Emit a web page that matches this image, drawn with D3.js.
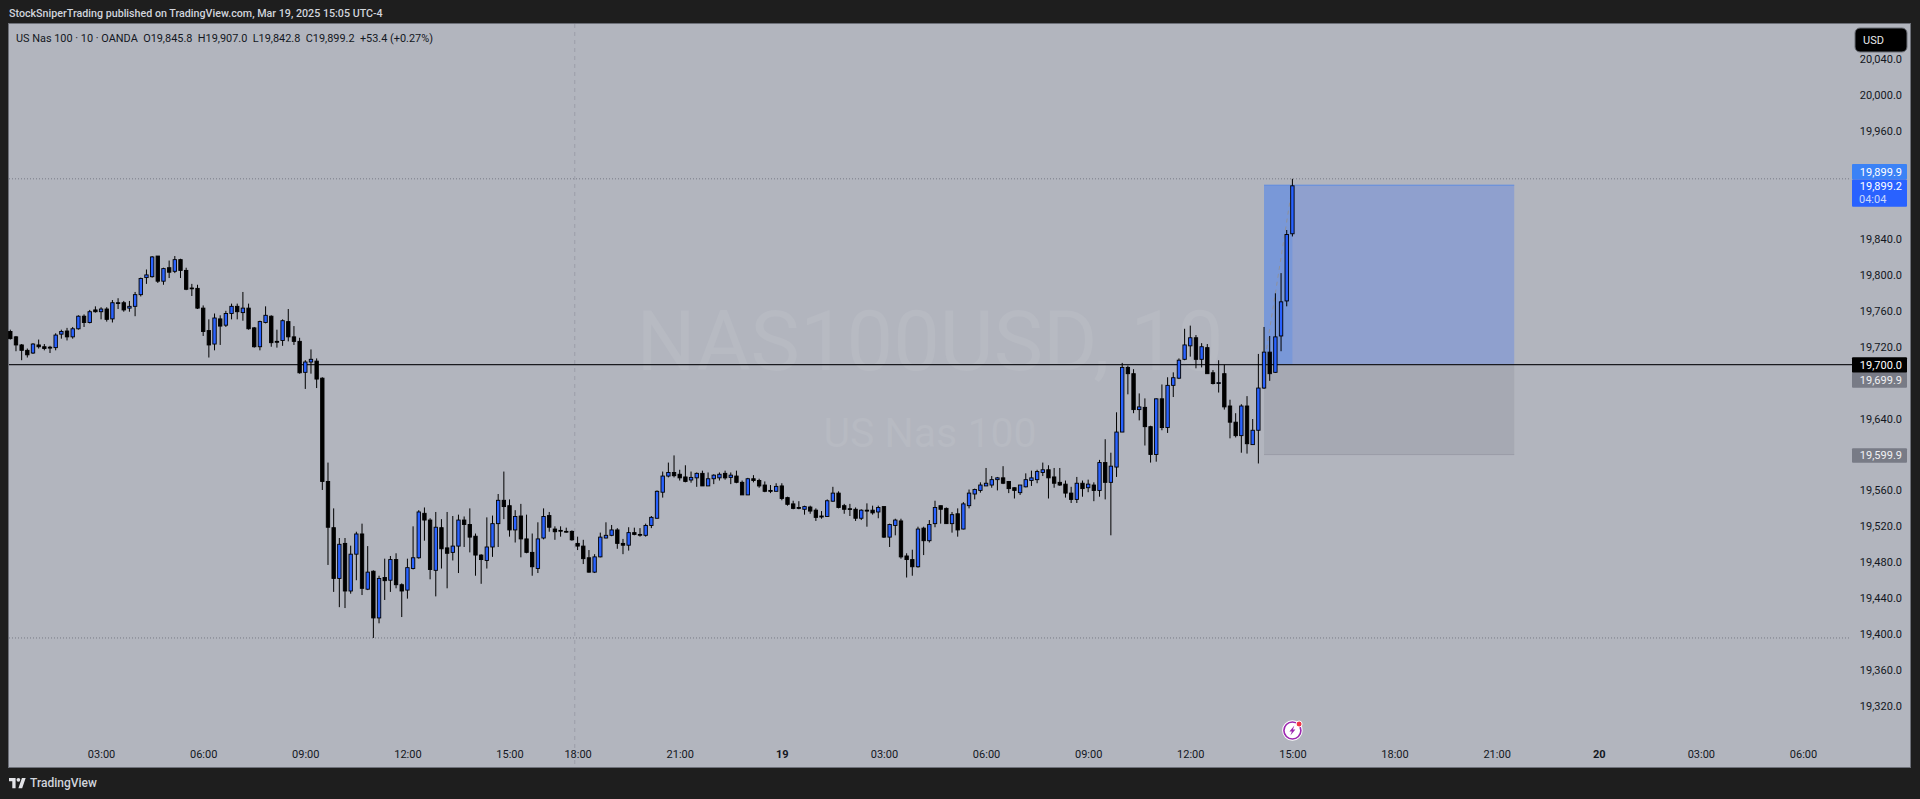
<!DOCTYPE html>
<html>
<head>
<meta charset="utf-8">
<style>
  html, body { margin: 0; padding: 0; background: #1e1e1e; overflow: hidden; }
  text { font-family: Roboto, sans-serif; }
</style>
</head>
<body>
<div id="canvas"></div>
<script src="https://cdn.jsdelivr.net/npm/d3@7"></script>
<script>
// candles (10 minute bars, US Nas 100)
var opens = [
  19737,19731,19722,19716,19713,19722,19720,19719.5,19719,19734,19737.5,19731,19740,19754,19747,19761,19759,19762,19751,19769,
  19769,19763,19765,19778,19797,19798,19821,19793,19808,19804,19817,19805,19785.4,19785,19763,19738,19723,19751,19744,19757,
  19765,19758,19763,19741,19720,19747,19754,19726,19727,19748,19731,19726,19691.5,19703,19704,
  19685,19570,19518.5,19462,19501,19448,19489,19511.5,19450,19470,19418,19463,19460,19483,19455,19449,19473,19485,19534.5,19527,
  19471,19518.5,19496,19491,19498,19527,19522,19509,19488,19482,19497,19523,19549,19543,19516,19531.5,19506,19491,19473,19507,
  19532,19517,19515.5,19514.4,19514.4,19501,19498,19485,19469,19486,19507,19510,19516,19501,19499,19513,
  19511,19510,19521,19529,19558,19576,19580,19578,19575,19571.6,19574,19579,19565,19573,19574,19579,19574.5,19576,19569,19555,
  19573,19571,19566,19560,19559,19565,19552,19545,19541,19539,19541.5,19538,19531.5,19531,19548,19557,19543,19539.6,19539,19529,
  19538,19538,19536,19542,19508,19521,19526,19487,19483,19475,19518,19504,19523,19543,
  19540,19523,19534,19517,19543,19556,19560,19565,19566,19572,19574,19570,19563,19557.5,19564,19571,19572,19580,19583,19575,
  19569,19567,19557,19550,19568,19563,19566,19560,19591,19569,
  19586,19625,19697,19690,19650,19652.5,19631,19600,19662,19630,19677,19685,19706,19721,19730,19706,19719,19691,19680,19690,
  19654,19636,19621,19654,19611,19627,
  19674,19714,19691.5,19732,19771,19845.8
];
var closes = [
  19729,19722,19716,19711,19723,19720,19718,19718.5,19733,19737,19731,19740,19754,19747,19759,19759,19762,19750.5,19769,19768.7,
  19761,19765,19778,19796,19800,19820,19793,19807,19803,19817,19805,19784,19784.7,19763,19737,19722,19752,19743,19757,19765,
  19759,19763,19740,19720,19748,19755,19724.5,19725,19749,19731,19726,19691,19703,19706,19684,
  19570,19519,19462,19500,19448,19489,19511.5,19451,19469,19418,19462,19459.5,19483,19455,19448,19474,19485,19536,19527,19472,
  19519,19495,19490,19498,19527,19522,19508,19488,19483,19497,19523,19549,19542,19516,19531,19506,19491,19475,19506,19531,
  19519,19514,19514.8,19513.7,19505,19498,19484,19469,19486,19508,19510,19516,19501,19499,19513,19511,
  19510.3,19521,19530,19559,19576,19580,19576.4,19574,19570,19574.5,19579,19565,19573,19577,19578,19574,19577,19569,19555,19573,
  19571,19565,19559,19559,19564.5,19551,19544.5,19540,19540,19542,19537,19530,19530.4,19548.5,19557,19541,19539,19539,19529,19538,
  19537,19535,19541,19508,19522,19527,19486,19483,19475,19517,19504,19522,19541,19539,
  19523,19533,19516,19545,19557,19561,19566,19568,19572,19574,19568,19562,19560,19566,19572,19574,19581,19583,19574,19568,
  19566,19557,19550,19568,19562,19567,19560,19591,19569,19587,
  19625,19697,19690,19650,19653,19631,19600,19662,19630,19677,19685.5,19705,19722,19730,19706,19720,19690,19679,19680,19653,
  19636,19621,19654,19612,19627,19674,
  19714,19690,19731,19770,19845,19899.2
];
var highs = [
  19739,19732,19723,19718,19724,19728,19723,19721,19735,19739,19741,19742,19755,19756,19761,19765,19764,19764,19772,19774,
  19771,19771,19781,19797,19806,19821,19821,19808,19816,19821,19818,19808,19790,19789,19766,19750.5,19757,19755,19760,19768,
  19768,19781,19768,19742,19749,19765,19755,19739,19750.5,19762,19743,19730,19705,19717,19707,
  19686,19591,19540,19507,19507,19498.5,19514,19523,19498,19471,19465,19484,19487,19490,19456.5,19484,19520,19538,19541,19529,
  19536,19528,19536,19531.5,19533,19531,19540,19512,19489,19530,19532,19556,19581,19550,19538,19545,19533,19512,19524.5,19540,
  19536,19520,19520,19518.5,19515.5,19508.5,19505,19493.6,19489,19513,19524.5,19521.5,19518,19506,19519,19518.5,
  19518,19523,19531.5,19560,19581,19591,19599,19583,19588,19581,19580,19582,19580,19578,19580,19582,19580,19582,19571,19574,
  19577,19573,19570,19566,19568,19568,19553,19548.5,19548,19543,19543,19540,19537,19550,19564,19559,19545,19545,19541,19539,
  19545.6,19543,19543,19542,19523,19528.5,19528.5,19490,19494,19519.6,19519.6,19527,19548.5,19543,
  19541,19536,19540,19547,19561,19562,19569,19585,19576,19575,19587,19570.5,19563.4,19566,19579,19582,19583,19591,19588,19585,
  19585,19571,19564,19575,19571,19572,19569,19594,19617,19602,
  19647,19702,19699,19695,19668,19662.5,19632,19662.5,19678,19686,19691.5,19707,19740,19743.5,19733,19724,19723,19694,19705,19700,
  19661,19646,19656,19665,19639.5,19712,
  19742,19732,19779.5,19802,19850,19907
];
var lows = [
  19728,19715,19705,19708,19712,19718,19716,19713,19716,19729,19727,19729,19739,19742,19746,19758,19750.5,19748,19747,19762,
  19759,19759,19754,19776,19790,19797,19791,19789,19796.5,19802,19796.5,19783,19776.5,19762,19732,19708,19716,19722,19742,19750.5,
  19750.5,19749,19739,19719,19716,19746,19720,19719,19721,19726,19722,19690,19673,19690,19674,
  19560.5,19477,19447,19430,19429,19445,19460,19443.5,19449,19395.7,19412,19438,19447,19451,19419,19439.5,19472,19484,19504,19461,
  19442,19473,19451,19482,19468,19497,19491,19465,19456,19473,19486,19497,19528,19508.5,19502,19485.5,19490,19465,19468,19505.5,
  19514,19505,19508.5,19513,19504,19493.6,19478,19468.4,19468,19485.5,19506.6,19509,19495,19489,19493,19510,
  19508.5,19508.5,19518,19528.5,19552,19574.5,19574.5,19571,19569,19568.6,19564,19565,19565,19567,19571,19572,19567,19568,19555,19555,
  19569,19563,19558,19557,19559,19549,19543,19539,19539,19533,19534,19526,19528.5,19530.4,19547.4,19540,19534,19531.5,19526,19527,
  19519.6,19533,19529,19507,19497,19510,19484,19463,19465,19474,19488,19502,19519,19523,
  19522.6,19513,19508.5,19516.6,19540,19550,19557.5,19565,19563,19560,19567,19557,19551,19555,19563.4,19565,19568,19576,19551,19563,
  19565,19552,19546,19546,19553,19558,19548,19553,19550,19510,
  19575,19625,19667,19646,19638,19610,19591,19592,19627,19624,19664,19684,19705,19709,19696,19697,19690,19678,19669,19650,
  19618,19619,19602,19601,19611,19590,
  19673,19682,19691,19715,19765,19842.8
];

// axis values (the ones under the price tags are not shown)
var priceTicks = [20040,20000,19960,19840,19800,19760,19720,19640,19560,19520,19480,19440,19400,19360,19320];
var timeTickBars = [16,34,52,70,88,100,118,136,154,172,190,208,226,244,262,280,298,316];
var timeTickLabels = ["03:00","06:00","09:00","12:00","15:00","18:00","21:00","19","03:00","06:00","09:00","12:00","15:00","18:00","21:00","20","03:00","06:00"];

// position tool and price lines
var entryPrice = 19700, targetPrice = 19899.9, stopPrice = 19599.9;
var visibleHigh = 19907, visibleLow = 19395.7;
var positionStartBar = 221, positionEndBar = 265.1, lastBar = 226;
var sessionBreakBar = 99.5;

var width = 1920, height = 799;
var pane = {left: 9, top: 24, right: 1910, bottom: 767};
var axisLeft = 1852, tickRight = 1902;

var svg = d3.select("#canvas").append("svg")
  .attr("width", width).attr("height", height)
  .style("display", "block");

var x = d3.scaleLinear().domain([0, 226]).range([10.3, 1292.4]);
var y = d3.scaleLinear().domain([19700, 20000]).range([364.7, 95.3]);

svg.append("rect")
  .attr("x", pane.left).attr("y", pane.top)
  .attr("width", pane.right - pane.left).attr("height", pane.bottom - pane.top)
  .attr("fill", "#b2b5be");

svg.append("rect")
  .attr("x", pane.left - 0.5).attr("y", pane.top - 0.5)
  .attr("width", pane.right - pane.left + 1).attr("height", pane.bottom - pane.top + 1)
  .attr("fill", "none").attr("stroke", "#6d7078").attr("stroke-width", 1);

// watermark
svg.append("text").attr("x", 930).attr("y", 370).attr("text-anchor", "middle")
  .attr("font-size", 83).attr("fill", "#b7bac2").text("NAS100USD, 10");
svg.append("text").attr("x", 930).attr("y", 447).attr("text-anchor", "middle")
  .attr("font-size", 41).attr("fill", "#b7bac2").text("US Nas 100");

// session break
svg.append("line")
  .attr("x1", x(sessionBreakBar)).attr("x2", x(sessionBreakBar))
  .attr("y1", pane.top).attr("y2", pane.bottom)
  .attr("stroke", "#9b9ea8").attr("stroke-width", 1).attr("stroke-dasharray", "4,4");

// long position box
var boxL = x(positionStartBar), boxR = x(positionEndBar);
svg.append("rect").attr("x", boxL).attr("width", boxR - boxL)
  .attr("y", y(targetPrice)).attr("height", y(entryPrice) - y(targetPrice))
  .attr("fill", "#2962ff").attr("fill-opacity", 0.25);
svg.append("rect").attr("x", boxL).attr("width", x(lastBar) - boxL)
  .attr("y", y(targetPrice)).attr("height", y(entryPrice) - y(targetPrice))
  .attr("fill", "#2e7bff").attr("fill-opacity", 0.22);
svg.append("rect").attr("x", boxL).attr("width", boxR - boxL)
  .attr("y", y(entryPrice)).attr("height", y(stopPrice) - y(entryPrice))
  .attr("fill", "#787b86").attr("fill-opacity", 0.2);
svg.append("line").attr("x1", boxL).attr("x2", boxR)
  .attr("y1", y(targetPrice)).attr("y2", y(targetPrice))
  .attr("stroke", "#5f8be0").attr("stroke-width", 1);
svg.append("line").attr("x1", boxL).attr("x2", boxR)
  .attr("y1", y(stopPrice)).attr("y2", y(stopPrice))
  .attr("stroke", "#9a9ca6").attr("stroke-width", 1);
svg.append("line").attr("x1", boxL).attr("x2", x(lastBar))
  .attr("y1", y(entryPrice)).attr("y2", y(closes[lastBar]))
  .attr("stroke", "#8e919b").attr("stroke-width", 1).attr("stroke-dasharray", "4,4");

// high / low dotted lines
[visibleHigh, visibleLow].forEach(function(p) {
  svg.append("line").attr("x1", pane.left).attr("x2", axisLeft - 2)
    .attr("y1", y(p)).attr("y2", y(p))
    .attr("stroke", "#787b86").attr("stroke-width", 1).attr("stroke-dasharray", "1,2");
});

// entry line
svg.append("line").attr("x1", pane.left).attr("x2", axisLeft)
  .attr("y1", y(entryPrice)).attr("y2", y(entryPrice))
  .attr("stroke", "#1a1b20").attr("stroke-width", 1.2);

// candles
var bars = d3.range(opens.length);
var candle = svg.append("g").selectAll("g").data(bars).enter().append("g");
candle.append("line")
  .attr("x1", function(i) { return x(i); }).attr("x2", function(i) { return x(i); })
  .attr("y1", function(i) { return y(highs[i]); }).attr("y2", function(i) { return y(lows[i]); })
  .attr("stroke", "#000").attr("stroke-width", 1);
candle.append("rect")
  .attr("x", function(i) { return x(i) - 1.7; })
  .attr("width", 3.4)
  .attr("y", function(i) { return y(Math.max(opens[i], closes[i])); })
  .attr("height", function(i) { return Math.max(0.8, Math.abs(y(opens[i]) - y(closes[i]))); })
  .attr("fill", function(i) { return closes[i] >= opens[i] ? "#2962ff" : "#000"; })
  .attr("stroke", "#000").attr("stroke-width", 0.9);

// price axis
var yAxis = svg.append("g")
  .attr("transform", "translate(" + tickRight + ",0)")
  .call(d3.axisRight(y).tickValues(priceTicks).tickSize(0).tickPadding(0).tickFormat(d3.format(",.1f")));
yAxis.select(".domain").remove();
yAxis.selectAll("text")
  .attr("text-anchor", "end")
  .attr("font-size", 11).attr("font-family", "Roboto, sans-serif").attr("fill", "#131722");

// time axis
var xAxis = svg.append("g")
  .attr("transform", "translate(0,754)")
  .call(d3.axisBottom(x).tickValues(timeTickBars).tickSize(0).tickPadding(0)
    .tickFormat(function(d, i) { return timeTickLabels[i]; }));
xAxis.select(".domain").remove();
xAxis.selectAll("text")
  .attr("dy", "0.35em").attr("y", 0)
  .attr("font-size", 11).attr("font-family", "Roboto, sans-serif").attr("fill", "#131722")
  .attr("font-weight", function(d, i) { return timeTickLabels[i].length == 2 ? 700 : 400; });

// price labels on the axis
function priceTag(y0, y1, fill) {
  svg.append("rect").attr("x", axisLeft).attr("y", y0).attr("width", 55).attr("height", y1 - y0)
    .attr("fill", fill).attr("rx", 1);
}
function tagText(yc, label, color) {
  svg.append("text").attr("x", tickRight).attr("y", yc).attr("dy", "0.35em")
    .attr("text-anchor", "end").attr("font-size", 11).attr("fill", color).text(label);
}
priceTag(164, 179.5, "#3b82f6");
tagText(171.7, d3.format(",.1f")(targetPrice), "#fff");
priceTag(179.5, 206.7, "#2962ff");
tagText(186, d3.format(",.1f")(closes[lastBar]), "#fff");
svg.append("text").attr("x", 1859).attr("y", 199).attr("dy", "0.35em")
  .attr("font-size", 11).attr("fill", "#c9d8fb").text("04:04");
priceTag(357.3, 372.7, "#000");
tagText(365, d3.format(",.1f")(entryPrice), "#fff");
priceTag(372.7, 387.7, "#787b86");
tagText(380.2, "19,699.9", "#f0f1f4");
priceTag(448.3, 462.7, "#787b86");
tagText(455.5, d3.format(",.1f")(stopPrice), "#f0f1f4");

// currency badge
svg.append("rect").attr("x", 1855).attr("y", 28).attr("width", 52).attr("height", 24).attr("rx", 5)
  .attr("fill", "#000").attr("stroke", "#6d7078");
svg.append("text").attr("x", 1863).attr("y", 40).attr("dy", "0.35em")
  .attr("font-size", 11).attr("fill", "#e8e9ec").text("USD");

// header texts
svg.append("text").attr("x", 9).attr("y", 13.5).attr("dy", "0.35em")
  .attr("font-size", 10.7).attr("font-weight", 500).attr("fill", "#d1d4dc")
  .text("StockSniperTrading published on TradingView.com, Mar 19, 2025 15:05 UTC-4");
svg.append("text").attr("x", 16).attr("y", 38).attr("dy", "0.35em")
  .attr("font-size", 10.9).attr("fill", "#131722").attr("xml:space", "preserve")
  .text("US Nas 100 · 10 · OANDA  O19,845.8  H19,907.0  L19,842.8  C19,899.2  +53.4 (+0.27%)");

// TradingView logo
var logo = svg.append("g").attr("transform", "translate(9,776) scale(0.47)").attr("fill", "#e3e4e8");
logo.append("path").attr("d", "M14 26H7V11H0V4h14v22zM28 26h-8l7.5-22h8L28 26z");
logo.append("circle").attr("cx", 20).attr("cy", 8).attr("r", 4);
svg.append("text").attr("x", 30).attr("y", 783).attr("dy", "0.35em")
  .attr("font-size", 12).attr("font-weight", 500).attr("fill", "#d1d4dc").text("TradingView");

// event marker under the last bar
var marker = svg.append("g").attr("transform", "translate(" + x(lastBar) + ",730.5)");
marker.append("circle").attr("r", 9.5).attr("fill", "#fff").attr("stroke", "#fff").attr("stroke-width", 1.5);
marker.append("circle").attr("r", 8.5).attr("fill", "#fff").attr("stroke", "#9c27b0").attr("stroke-width", 1.6);
marker.append("path").attr("d", "M2,-5 L-3,1 L-0.5,1 L-2,5 L3,-1 L0.5,-1 Z").attr("fill", "#9c27b0");
marker.append("circle").attr("cx", 6.7).attr("cy", -6.5).attr("r", 3).attr("fill", "#f23645").attr("stroke", "#fff");
</script>
</body>
</html>
